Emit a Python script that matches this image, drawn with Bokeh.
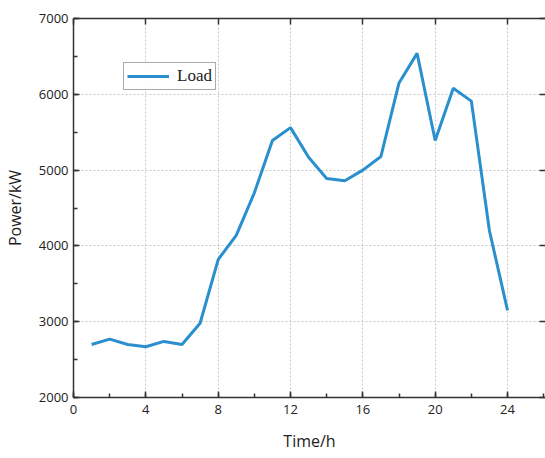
from bokeh.plotting import figure
from bokeh.models import (Range1d, LinearAxis, SingleIntervalTicker, Legend,
                          LegendItem, CustomJSTickFormatter)
from bokeh.embed import file_html
from bokeh.resources import INLINE

# Hourly load profile over one day
hours = list(range(1, 25))
load_kw = [2700, 2770, 2700, 2670, 2740, 2700, 2980, 3820, 4140, 4700,
           5390, 5560, 5170, 4890, 4860, 5000, 5180, 6150, 6540, 5390,
           6080, 5910, 4200, 3150]

x_ticks_interval = 4
y_ticks_interval = 1000

LINE_COLOR = "#2a8fcf"
TEXT_COLOR = "#222222"
AXIS_COLOR = "#333333"
SANS = "Open Sans"

p = figure(width=545, height=458, output_backend="svg", toolbar_location=None,
           x_range=Range1d(0, 26.1), y_range=Range1d(2000, 7000),
           x_axis_label="Time/h", y_axis_label="Power/kW",
           min_border_left=72, min_border_right=0, min_border_top=18,
           min_border_bottom=61)
p.outline_line_color = None
p.background_fill_color = "white"
p.border_fill_color = "white"

line = p.line(hours, load_kw, line_color=LINE_COLOR, line_width=3)

xt = SingleIntervalTicker(interval=x_ticks_interval, num_minor_ticks=2)
yt = SingleIntervalTicker(interval=y_ticks_interval, num_minor_ticks=2)

for ax, tk in ((p.xaxis[0], xt), (p.yaxis[0], yt)):
    ax.ticker = tk
    ax.axis_line_color = AXIS_COLOR
    ax.axis_line_width = 1.5
    ax.major_tick_line_color = AXIS_COLOR
    ax.minor_tick_line_color = AXIS_COLOR
    ax.major_tick_line_width = 1.5
    ax.minor_tick_line_width = 1.5
    ax.major_tick_in = 6
    ax.major_tick_out = 0
    ax.minor_tick_in = 4
    ax.minor_tick_out = 0
    ax.major_label_text_font = SANS
    ax.major_label_text_font_size = "13px"
    ax.major_label_text_color = TEXT_COLOR
    ax.axis_label_text_font = SANS
    ax.axis_label_text_font_size = "16px"
    ax.axis_label_text_font_style = "normal"
    ax.axis_label_text_color = TEXT_COLOR
    ax.level = "overlay"

p.xaxis[0].major_label_standoff = 7
p.xaxis[0].axis_label_standoff = 13
p.yaxis[0].major_label_standoff = 5
p.yaxis[0].axis_label_standoff = 10

blank = CustomJSTickFormatter(code="return ''")

# Mirrored frame axes (ticks only)
top = LinearAxis(ticker=SingleIntervalTicker(interval=x_ticks_interval,
                                             num_minor_ticks=0),
                 formatter=blank)
top.axis_line_color = AXIS_COLOR
top.axis_line_width = 1.5
top.major_tick_line_color = AXIS_COLOR
top.major_tick_line_width = 1.5
top.major_tick_in = 6
top.major_tick_out = 0
top.minor_tick_line_color = None
top.major_label_standoff = 0
top.level = "overlay"
p.add_layout(top, "above")

right = LinearAxis(ticker=SingleIntervalTicker(interval=y_ticks_interval,
                                               num_minor_ticks=0),
                   formatter=blank)
right.axis_line_color = None
right.major_tick_line_color = AXIS_COLOR
right.major_tick_line_width = 1.5
right.major_tick_in = 6
right.major_tick_out = 0
right.minor_tick_line_color = None
right.major_label_standoff = 0
right.level = "overlay"
p.add_layout(right, "right")

for g in (p.xgrid[0], p.ygrid[0]):
    g.grid_line_color = "#c8c8c8"
    g.grid_line_dash = "2 2"
    g.grid_line_width = 1

legend = Legend(items=[LegendItem(label="Load", renderers=[line])],
                location=(50, 307))
legend.label_text_font = "Liberation Serif"
legend.label_text_font_size = "17px"
legend.label_text_color = TEXT_COLOR
legend.border_line_color = "#555555"
legend.border_line_width = 1
legend.glyph_width = 42
legend.glyph_height = 18
legend.label_standoff = 8
legend.padding = 3
legend.margin = 0
legend.label_height = 18
p.add_layout(legend, "center")

open("out.html", "w").write(file_html(p, INLINE))
